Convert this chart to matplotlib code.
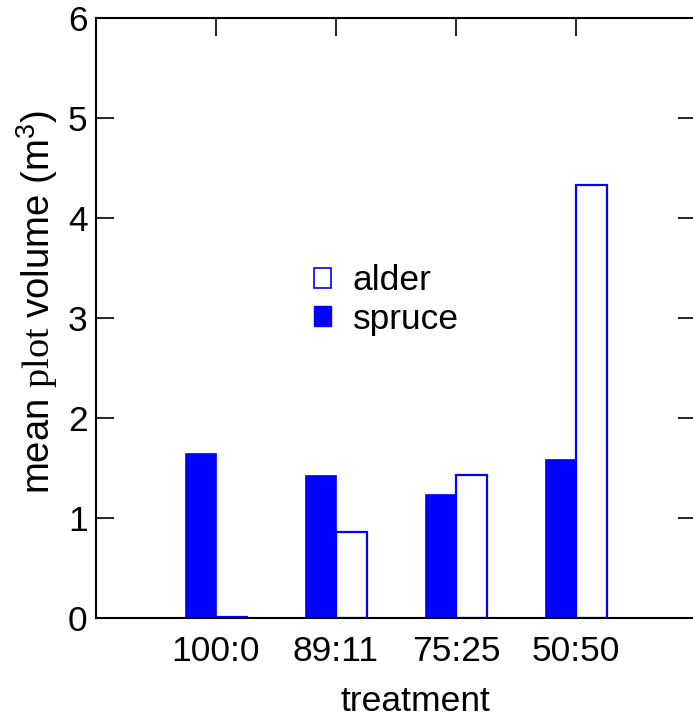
import matplotlib
matplotlib.use("Agg")
import matplotlib.pyplot as plt
import numpy as np
from matplotlib.patches import Patch

plt.rcParams['font.family'] = ['Liberation Sans', 'DejaVu Sans']
plt.rcParams['mathtext.fontset'] = 'custom'
plt.rcParams['mathtext.rm'] = 'Liberation Serif'
plt.rcParams['mathtext.sf'] = 'Liberation Sans'

categories = ["100:0", "89:11", "75:25", "50:50"]
spruce = [1.65, 1.43, 1.24, 1.59]
alder = [0.01, 0.86, 1.43, 4.33]

blue = "#0000ff"
fs = 25.5

fig = plt.figure(figsize=(6.93, 7.19), dpi=100)
ax = fig.add_axes([96/693, 101/719, 600/693, 600/719])

x = np.arange(1, len(categories) + 1)
w = 0.26
ax.bar(x - w, spruce, width=w, align='edge', color=blue, edgecolor=blue, linewidth=0.5, label='spruce')
ax.bar(x, alder, width=w, align='edge', color='white', edgecolor=blue, linewidth=1.6, label='alder')

ax.set_xlim(0, 5)
ax.set_ylim(0, 6)
ax.set_xticks(x)
ax.set_xticklabels(categories, fontsize=fs)
ax.set_yticks(range(0, 7))
ax.set_yticklabels([str(i) for i in range(0, 7)], fontsize=fs)

ax.tick_params(axis='y', direction='in', length=13, width=1.2, pad=6, left=True, right=True)
ax.tick_params(axis='x', direction='in', length=13, width=1.2, pad=12, bottom=False, top=True)
for s in ax.spines.values():
    s.set_linewidth(1.5)

ax.set_xlabel("treatment", fontsize=fs)
ax.xaxis.set_label_coords(0.532, -0.112)
ax.set_ylabel(r"mean $\mathrm{plot}$ volume (m$^{\mathsf{3}}$)", fontsize=27.5)
ax.yaxis.set_label_coords(-0.06, 0.527)

handles = [Patch(facecolor='white', edgecolor=blue, linewidth=1.2),
           Patch(facecolor=blue, edgecolor=blue)]
ax.legend(handles, ['alder', 'spruce'], loc='center left',
          bbox_to_anchor=(296/693, 1 - 300/719), bbox_transform=fig.transFigure,
          frameon=False, fontsize=fs, handlelength=0.5, handleheight=0.5,
          handletextpad=0.6, labelspacing=0.15, borderpad=0)

fig.savefig("out.png", dpi=100)
